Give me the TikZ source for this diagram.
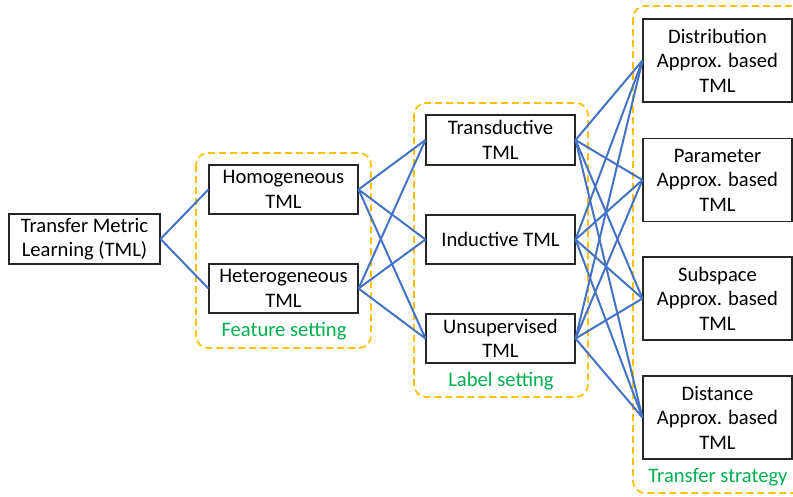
\documentclass[tikz,border=0pt]{standalone}
\usepackage{fontspec}
\setmainfont{Carlito}
\definecolor{edgeblue}{HTML}{4472C4}
\definecolor{grouporange}{HTML}{FFC000}
\definecolor{labelgreen}{HTML}{00B050}
\begin{document}
\begin{tikzpicture}[x=1pt,y=-1pt,
  box/.style={draw=black!85, line width=1.1pt, fill=white, align=center, inner sep=0pt,
    font=\fontsize{20.6}{24.5}\selectfont},
  group/.style={draw=grouporange, dashed, dash pattern=on 7pt off 4pt, line width=1.7pt, rounded corners=12pt},
  grouplabel/.style={text=labelgreen, font=\fontsize{20.6}{24}\selectfont},
  link/.style={draw=edgeblue, line width=2pt}]
\useasboundingbox (0,0) rectangle (793,496);
\begin{scope}
\clip (0,0) rectangle (793,496);
\draw[group] (196,153) rectangle (371,348);
\draw[group] (414,103) rectangle (588,397);
\draw[group] (633,6) rectangle (806,493);
\end{scope}
\node[grouplabel] (fs) at (284,331) {Feature setting};
\node[grouplabel] (ls) at (501,381) {Label setting};
\node[grouplabel] (ts) at (718,477) {Transfer strategy};

\node[box, minimum width=151pt, minimum height=50pt] (root) at (84.5,239) {Transfer Metric\\Learning (TML)};
\node[box, minimum width=149pt, minimum height=49pt] (homo) at (283.5,189.5) {Homogeneous\\TML};
\node[box, minimum width=149pt, minimum height=49pt] (hetero) at (283.5,288.5) {Heterogeneous\\TML};
\node[box, minimum width=149pt, minimum height=50pt] (trans) at (500.5,140) {Transductive\\TML};
\node[box, minimum width=149pt, minimum height=49pt] (induc) at (500.5,239.5) {Inductive TML};
\node[box, minimum width=149pt, minimum height=49pt] (unsup) at (500.5,338.5) {Unsupervised\\TML};
\node[box, minimum width=149pt, minimum height=83pt] (dist) at (717.5,60.5) {Distribution\\Approx. based\\TML};
\node[box, minimum width=149pt, minimum height=83pt] (param) at (717.5,180) {Parameter\\Approx. based\\TML};
\node[box, minimum width=149pt, minimum height=83pt] (subsp) at (717.5,298.5) {Subspace\\Approx. based\\TML};
\node[box, minimum width=149pt, minimum height=83pt] (dista) at (717.5,417.5) {Distance\\Approx. based\\TML};

\draw[link] (root.east) -- (homo.west);
\draw[link] (root.east) -- (hetero.west);
\foreach \a in {homo,hetero}
  \foreach \b in {trans,induc,unsup}
    \draw[link] (\a.east) -- (\b.west);
\foreach \a in {trans,induc,unsup}
  \foreach \b in {dist,param,subsp,dista}
    \draw[link] (\a.east) -- (\b.west);
\end{tikzpicture}
\end{document}
